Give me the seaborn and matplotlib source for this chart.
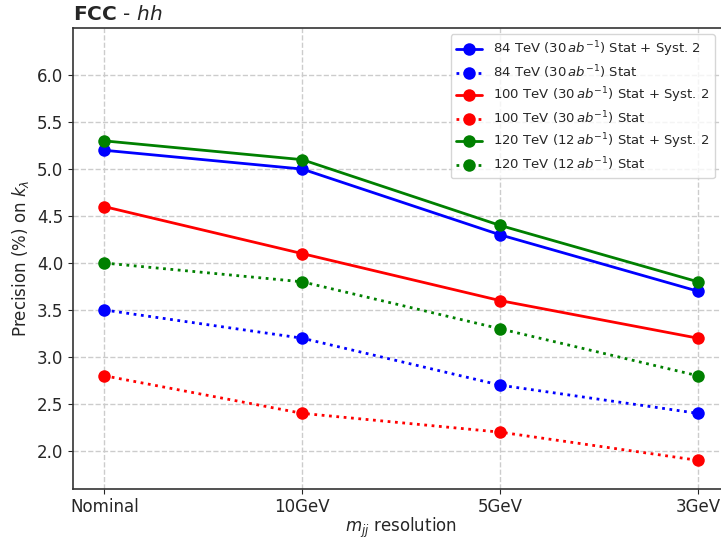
import matplotlib
matplotlib.use("Agg")
import matplotlib.pyplot as plt
import seaborn as sns
import pandas as pd

resolutions = ["Nominal", "10GeV", "5GeV", "3GeV"]

tev84_syst = [5.2, 5.0, 4.3, 3.7]
tev84_stat = [3.5, 3.2, 2.7, 2.4]
tev100_syst = [4.6, 4.1, 3.6, 3.2]
tev100_stat = [2.8, 2.4, 2.2, 1.9]
tev120_syst = [5.3, 5.1, 4.4, 3.8]
tev120_stat = [4.0, 3.8, 3.3, 2.8]

series = [
    (r"84 TeV (30$\,ab^{-1}$) Stat + Syst. 2", tev84_syst, "blue", "-"),
    (r"84 TeV (30$\,ab^{-1}$) Stat", tev84_stat, "blue", ":"),
    (r"100 TeV (30$\,ab^{-1}$) Stat + Syst. 2", tev100_syst, "red", "-"),
    (r"100 TeV (30$\,ab^{-1}$) Stat", tev100_stat, "red", ":"),
    (r"120 TeV (12$\,ab^{-1}$) Stat + Syst. 2", tev120_syst, "green", "-"),
    (r"120 TeV (12$\,ab^{-1}$) Stat", tev120_stat, "green", ":"),
]

sns.set_style("ticks")
plt.rcParams["font.family"] = ["DejaVu Sans"]

fig = plt.figure(figsize=(7.21, 5.41), dpi=100)
# the right edge of the axes runs past the figure, as in the reference crop
ax = fig.add_axes([0.101, 0.097, 0.911, 0.851])

for label, vals, color, ls in series:
    df = pd.DataFrame({"x": range(len(resolutions)), "y": vals})
    sns.lineplot(data=df, x="x", y="y", color=color, linestyle=ls, marker="o",
                 markersize=9, markeredgewidth=0, linewidth=2, label=label, ax=ax)

ax.set_xticks(range(len(resolutions)))
ax.set_xticklabels(resolutions)
ax.set_xlim(-0.16, 3.16)
ax.set_ylim(1.6, 6.5)
ax.set_yticks([2.0, 2.5, 3.0, 3.5, 4.0, 4.5, 5.0, 5.5, 6.0])
ax.grid(True, linestyle="--", color="#cccccc", linewidth=1)
ax.tick_params(labelsize=12)
ax.set_xlabel(r"$m_{jj}$ resolution", fontsize=12, labelpad=0)
ax.set_ylabel(r"Precision (%) on $k_{\lambda}$", fontsize=12)
for s in ax.spines.values():
    s.set_color("#333333")
    s.set_linewidth(1.2)

ax.text(0.0, 1.008, r"$\bf{FCC}$ - $hh$", transform=ax.transAxes,
        fontsize=14.5, ha="left", va="bottom")

leg = ax.legend(loc="upper right", bbox_to_anchor=(0.983, 0.995), fontsize=9.5,
                frameon=True, fancybox=True, handlelength=2.0,
                labelspacing=0.33, borderaxespad=0.3)

fig.savefig("out.png", dpi=100)
